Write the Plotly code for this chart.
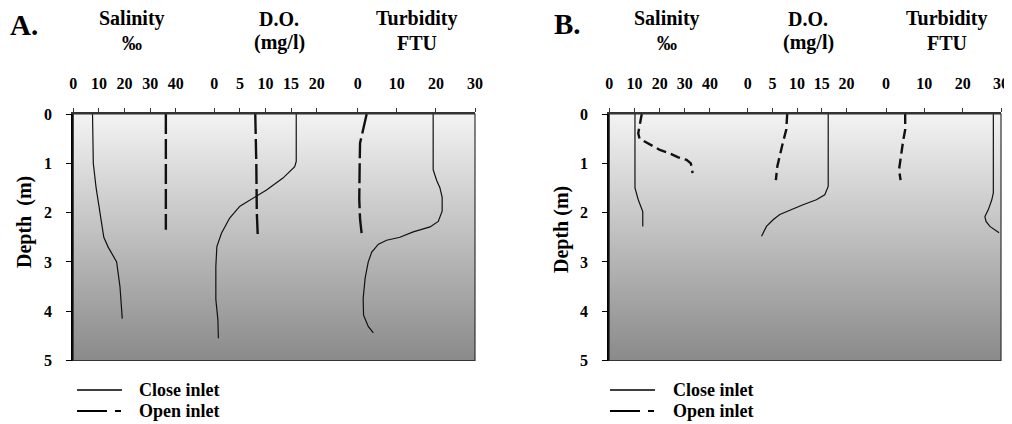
import plotly.graph_objects as go

# ---------------- data ----------------
# Panel A
A_sal_close_depth = [0, 1.0, 1.5, 2.0, 2.5, 2.7, 3.0, 3.5, 4.15]
A_sal_close = [7.5, 7.8, 8.9, 10.4, 11.9, 13.6, 16.9, 18.2, 19.1]
A_sal_open_depth = [0, 2.35]
A_sal_open = [36.1, 36.1]

A_do_close_depth = [0, 0.96, 1.07, 1.30, 1.54, 1.67, 1.87, 2.11, 2.42, 2.69, 3.09, 3.76, 4.17, 4.55]
A_do_close = [16.0, 16.0, 15.7, 13.4, 10.2, 8.2, 5.0, 3.0, 1.4, 0.5, 0.3, 0.3, 0.7, 0.8]
A_do_open_depth = [0, 0.3, 1.0, 2.0, 2.5]
A_do_open = [8.0, 8.1, 8.2, 8.3, 8.5]

A_tur_close_depth = [0, 1.13, 1.35, 1.49, 1.69, 1.97, 2.18, 2.29, 2.39, 2.50, 2.56, 2.64,
                     2.80, 3.0, 3.33, 3.74, 4.08, 4.17, 4.31, 4.44]
A_tur_close = [19.3, 19.3, 20.2, 21.0, 21.6, 21.6, 20.6, 18.5, 14.2, 10.8, 7.4, 5.3,
               3.6, 2.7, 1.9, 1.4, 1.5, 1.9, 2.7, 4.0]
A_tur_open_depth = [0, 0.32, 0.59, 1.06, 1.73, 2.13, 2.42]
A_tur_open = [2.3, 1.3, 0.6, 0.5, 0.4, 0.6, 1.0]

# Panel B
B_sal_close_depth = [0, 1.5, 1.74, 1.98, 2.28]
B_sal_close = [10.2, 10.2, 11.5, 13.3, 13.3]
B_sal_open_depth = [0, 0.26, 0.39, 0.50, 0.56, 0.66, 0.73, 0.80, 0.88, 0.93, 1.0, 1.2]
B_sal_open = [12.9, 11.9, 11.5, 12.0, 14.0, 17.5, 20.1, 24.1, 27.4, 30.7, 32.4, 33.1]

B_do_close_depth = [0, 1.47, 1.64, 1.74, 1.84, 1.98, 2.04, 2.14, 2.28, 2.48]
B_do_close = [16.3, 16.3, 15.6, 13.9, 11.2, 7.9, 6.5, 5.2, 3.8, 2.8]
B_do_open_depth = [0, 0.32, 0.59, 0.86, 1.06, 1.34]
B_do_open = [8.0, 7.8, 7.1, 6.5, 6.0, 5.7]

B_tur_close_depth = [0, 1.6, 1.74, 1.94, 2.08, 2.18, 2.28, 2.36, 2.41]
B_tur_close = [28.0, 28.0, 27.6, 26.7, 25.8, 26.1, 27.1, 28.4, 29.5]
B_tur_open_depth = [0, 0.32, 0.53, 0.73, 1.0, 1.13, 1.34]
B_tur_open = [5.0, 5.0, 4.5, 4.1, 3.5, 3.4, 3.8]

# axis ticks / labels
sal_ticks = [0, 10, 20, 30, 40]
do_ticks = [0, 5, 10, 15, 20]
tur_ticks = [0, 10, 20, 30]
depth_ticks = [0, 1, 2, 3, 4, 5]
sal_range = [0, 55]
do_range = [0, 28]
tur_range = [0, 30]
depth_range = [5, 0]
legend_labels = ["Close inlet", "Open inlet"]

# ---------------- layout geometry ----------------
W, H = 1012, 424
OFF = 8  # page body margin offset compensation
FONT = "Liberation Serif, Times New Roman, serif"

def px(x):
    return (x - OFF) / W

def py(y):
    return 1 - (y - OFF) / H

y_dom = [py(360.5), py(114)]
panels = {
    "A": dict(edges=[73.3, 214.3, 357.7, 475.0], y="y", xs=["x", "x2", "x3", "x4"],
              dash="20px,5px", open_w=2.4, leg_x=77, leg_text=137),
    "B": dict(edges=[609.3, 747.7, 886.0, 1001.0], y="y2", xs=["x5", "x6", "x7", "x8"],
              dash="10px,5px", open_w=2.4, leg_x=610, leg_text=671),
}

fig = go.Figure()
layout = dict(
    width=W, height=H, margin=dict(l=0, r=0, t=0, b=0, autoexpand=False),
    paper_bgcolor="white", plot_bgcolor="rgba(0,0,0,0)",
    font=dict(family=FONT, color="black", size=16, weight="bold"),
    showlegend=False,
)

def axname(a):
    return "xaxis" if a == "x" else "xaxis" + a[1:]

data_sets = {
    "A": [(A_sal_close_depth, A_sal_close, A_sal_open_depth, A_sal_open),
          (A_do_close_depth, A_do_close, A_do_open_depth, A_do_open),
          (A_tur_close_depth, A_tur_close, A_tur_open_depth, A_tur_open)],
    "B": [(B_sal_close_depth, B_sal_close, B_sal_open_depth, B_sal_open),
          (B_do_close_depth, B_do_close, B_do_open_depth, B_do_open),
          (B_tur_close_depth, B_tur_close, B_tur_open_depth, B_tur_open)],
}
ranges = [sal_range, do_range, tur_range]
ticks = [sal_ticks, do_ticks, tur_ticks]

shapes = []
ann = []

def add_text(x, y, text, size, angle=0, xanchor="center"):
    ann.append(dict(x=px(x), y=py(y), xref="paper", yref="paper", text=text, showarrow=False,
                    xanchor=xanchor, yanchor="middle", textangle=angle,
                    font=dict(family=FONT, size=size, weight="bold", color="black")))

for key, p in panels.items():
    e = p["edges"]
    yname = "yaxis" if p["y"] == "y" else "yaxis" + p["y"][1:]
    bgx = p["xs"][0]
    # background gradient (decorative) on a full-panel helper axis
    fig.add_trace(go.Scatter(
        x=[0, 1, 1, 0, 0], y=[depth_range[1], depth_range[1], depth_range[0], depth_range[0], depth_range[1]],
        xaxis=bgx, yaxis=p["y"], mode="none", fill="toself",
        fillgradient=dict(type="vertical", colorscale=[[0, "#f3f3f3"], [1, "#8a8a8a"]],
                          start=depth_range[1], stop=depth_range[0]),
        showlegend=False, hoverinfo="skip"))
    layout[axname(bgx)] = dict(domain=[px(e[0]), px(e[3])], range=[0, 1], visible=False,
                               anchor=p["y"], fixedrange=True)
    for i in range(3):
        xa = p["xs"][i + 1]
        layout[axname(xa)] = dict(
            domain=[px(e[i]), px(e[i + 1])], range=ranges[i], anchor=p["y"], side="top",
            showline=True, linecolor="#333", linewidth=1.5, showgrid=False, zeroline=False,
            ticks="outside", ticklen=4, tickcolor="#333", tickwidth=1,
            tickvals=ticks[i], ticktext=[str(t) for t in ticks[i]],
            tickfont=dict(family=FONT, size=16, weight="bold"), ticklabelstandoff=13,
            ticklabeloverflow="allow")
        dc, vc, do_, vo = data_sets[key][i]
        fig.add_trace(go.Scatter(
            x=vc, y=dc, xaxis=xa, yaxis=p["y"], mode="lines",
            line=dict(color="#111", width=1.2), name=legend_labels[0], hoverinfo="skip"))
        fig.add_trace(go.Scatter(
            x=vo, y=do_, xaxis=xa, yaxis=p["y"], mode="lines",
            line=dict(color="#111", width=p["open_w"], dash=p["dash"]), name=legend_labels[1],
            hoverinfo="skip"))
    layout[yname] = dict(
        domain=y_dom, range=depth_range, anchor=p["xs"][1],
        showline=True, linecolor="black", linewidth=2, showgrid=False, zeroline=False,
        ticks="outside", ticklen=5, tickcolor="black", tickvals=depth_ticks,
        tickfont=dict(family=FONT, size=16, weight="bold"), ticklabelstandoff=11)
    # panel frame
    shapes.append(dict(type="rect", xref="paper", yref="paper",
                       x0=px(e[0]), x1=px(e[3]), y0=y_dom[0], y1=y_dom[1],
                       line=dict(color="#333", width=1.2), fillcolor="rgba(0,0,0,0)", layer="above"))
    # legend key (drawn manually)
    lx = p["leg_x"]
    shapes.append(dict(type="line", xref="paper", yref="paper", x0=px(lx), x1=px(lx + 45),
                       y0=py(390), y1=py(390), line=dict(color="black", width=1.5)))
    shapes.append(dict(type="line", xref="paper", yref="paper", x0=px(lx), x1=px(lx + 30),
                       y0=py(411), y1=py(411), line=dict(color="black", width=2)))
    shapes.append(dict(type="line", xref="paper", yref="paper", x0=px(lx + 38), x1=px(lx + 44),
                       y0=py(411), y1=py(411), line=dict(color="black", width=2)))
    add_text(p["leg_text"], 389.5, legend_labels[0], 18, xanchor="left")
    add_text(p["leg_text"], 411, legend_labels[1], 18, xanchor="left")

layout["shapes"] = shapes

# panel letters
add_text(24, 25, "A.", 29)
add_text(567, 24, "B.", 29)
# column titles
titles_A = [(132, "Salinity", "‰"), (279, "D.O.", "(mg/l)"), (417, "Turbidity", "FTU")]
titles_B = [(667, "Salinity", "‰"), (808, "D.O.", "(mg/l)"), (947, "Turbidity", "FTU")]
for cx, t1, t2 in titles_A + titles_B:
    add_text(cx, 19, t1, 20)
    add_text(cx, 43, t2, 20)
# depth titles
add_text(24, 222, "Depth  (m)", 20, angle=-90)
add_text(561, 230, "Depth (m)", 20, angle=-90)
layout["annotations"] = ann

fig.update_layout(**layout)
fig.write_html("out.html")
